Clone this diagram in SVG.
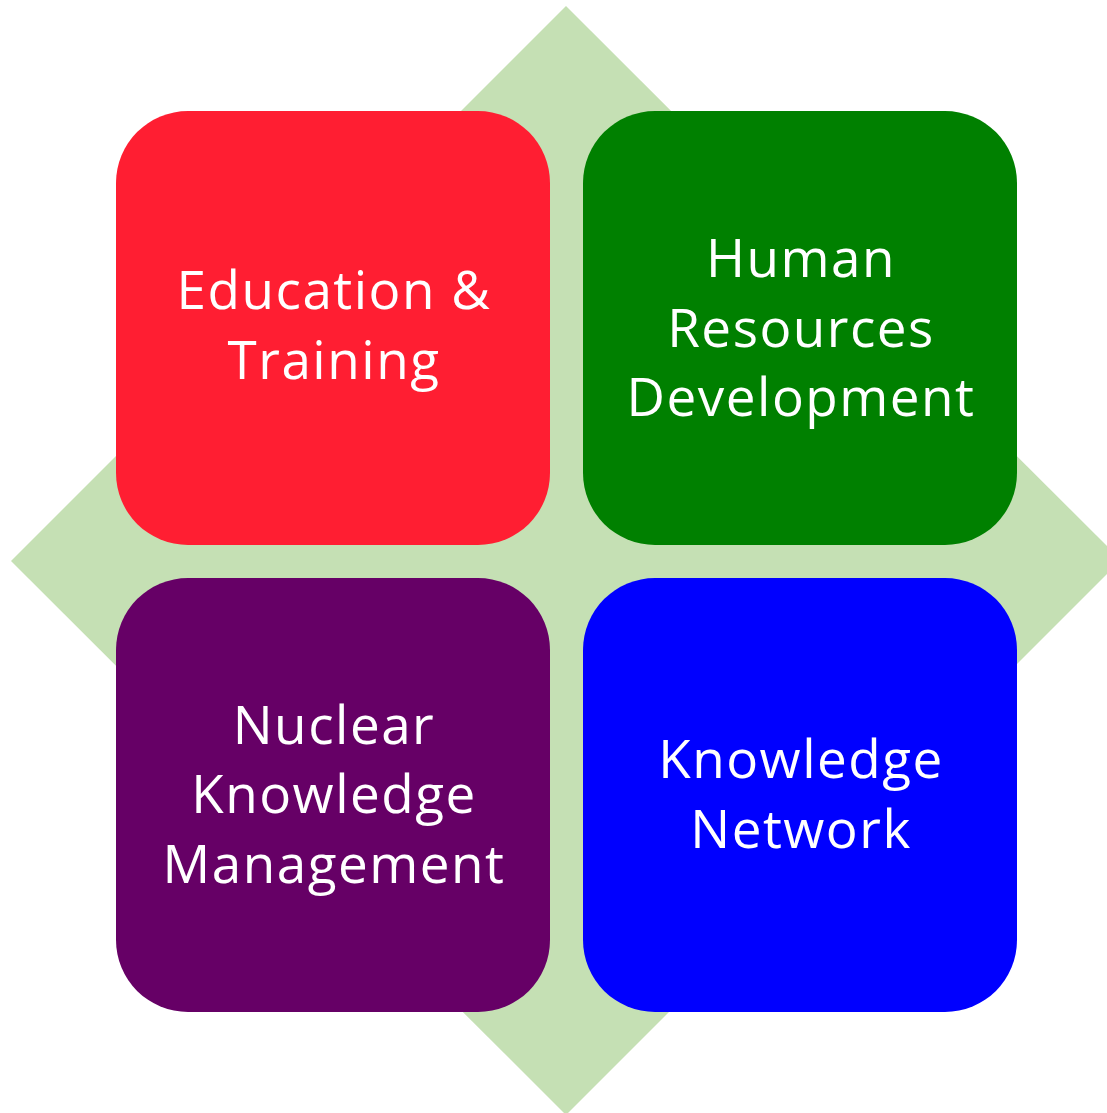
<svg xmlns="http://www.w3.org/2000/svg" width="1107" height="1113" viewBox="0 0 1107 1113">
<style>
.box{stroke:none}
.t{font-family:"Open Sans","Noto Sans","Liberation Sans",sans-serif;font-size:53px;letter-spacing:1.5px;fill:#ffffff;text-anchor:middle;font-variant-ligatures:none}
</style>
<rect width="1107" height="1113" fill="#ffffff"/>
<g id="background">
<polygon points="566,6 1121,560 566,1115 11,561" fill="#c5e0b4"/>
</g>
<g id="node-education">
<rect class="box" x="116" y="111" width="434" height="434" rx="72" ry="72" fill="#ff1e32"/>
<text class="t" x="334" y="309">Education &amp;</text>
<text class="t" x="334" y="379">Training</text>
</g>
<g id="node-hrd">
<rect class="box" x="583" y="111" width="434" height="434" rx="72" ry="72" fill="#008000"/>
<text class="t" x="801" y="277">Human</text>
<text class="t" x="801" y="347">Resources</text>
<text class="t" x="801" y="416">Development</text>
</g>
<g id="node-nkm">
<rect class="box" x="116" y="578" width="434" height="434" rx="72" ry="72" fill="#660066"/>
<text class="t" x="334" y="744">Nuclear</text>
<text class="t" x="334" y="813">Knowledge</text>
<text class="t" x="334" y="883">Management</text>
</g>
<g id="node-network">
<rect class="box" x="583" y="578" width="434" height="434" rx="72" ry="72" fill="#0000ff"/>
<text class="t" x="801" y="778">Knowledge</text>
<text class="t" x="801" y="848">Network</text>
</g>
<g id="connectors"/>
</svg>
